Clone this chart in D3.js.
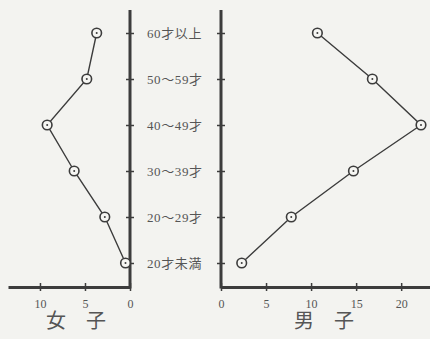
<!DOCTYPE html>
<html>
<head>
<meta charset="utf-8">
<script src="https://cdn.jsdelivr.net/npm/d3@7"></script>
<style>
  body { margin:0; background:#f3f3f0; }
  svg { display:block; }
  text { font-family:"Liberation Serif","DejaVu Serif","Noto Sans CJK JP",serif; fill:#555; }
</style>
</head>
<body>
<script>
// age groups, bottom to top
var ageGroups = ['20才未満','20～29才','30～39才','40～49才','50～59才','60才以上'];
var femaleValues = [0.5, 2.8, 6.2, 9.2, 4.8, 3.7];
var maleValues = [2.3, 7.8, 14.7, 22.2, 16.8, 10.7];
var femaleTicks = [0, 5, 10];
var maleTicks = [0, 5, 10, 15, 20];
var femaleTitle = '女　子';
var maleTitle = '男　子';

var W = 430, H = 339;
var ink = '#3c3c3c';
var svg = d3.select('body').append('svg').attr('width', W).attr('height', H);

var y = d3.scalePoint().domain(ageGroups).range([286, 10]).padding(0.5);
var xF = d3.scaleLinear().domain([0, 13.55]).range([130, 8]);
var xM = d3.scaleLinear().domain([0, 23.2]).range([221, 430]);
var baseY = 287;

function hAxis(x, ticks){
  var g = svg.append('g').attr('transform', 'translate(0,' + baseY + ')')
    .call(d3.axisBottom(x).tickValues(ticks).tickSizeOuter(0).tickSizeInner(4).tickPadding(8));
  g.select('.domain').attr('stroke', ink).attr('stroke-width', 3);
  g.selectAll('.tick line').attr('stroke', ink).attr('stroke-width', 1.5).attr('y1', -4).attr('y2', 4);
  g.selectAll('.tick text').style('font-size', '12px').attr('fill', '#777');
  return g;
}
function vAxis(xpos){
  var g = svg.append('g').attr('transform', 'translate(' + xpos + ',0)')
    .call(d3.axisRight(y).tickSizeOuter(0).tickSizeInner(4).tickFormat(''));
  g.select('.domain').attr('stroke', ink).attr('stroke-width', 3).attr('d', 'M0,10V' + (baseY + 1.5));
  g.selectAll('.tick line').attr('stroke', ink).attr('stroke-width', 1.5).attr('x1', -4).attr('x2', 4);
  return g;
}

hAxis(xF, femaleTicks);
hAxis(xM, maleTicks);
vAxis(xF(0));
vAxis(xM(0));

// category labels between the two panels
svg.append('g').selectAll('text').data(ageGroups).enter().append('text')
  .attr('x', 147).attr('y', function(d){ return y(d); })
  .attr('dy', '0.35em')
  .style('font-size', '13px')
  .style('letter-spacing', '0.6px')
  .text(function(d){ return d; });

function series(x, values){
  var pts = ageGroups.map(function(a, i){ return [x(values[i]), y(a)]; });
  svg.append('path').attr('d', d3.line()(pts))
    .attr('fill', 'none').attr('stroke', ink).attr('stroke-width', 1.4);
  var g = svg.append('g').selectAll('g').data(pts).enter().append('g')
    .attr('transform', function(d){ return 'translate(' + d[0] + ',' + d[1] + ')'; });
  g.append('circle').attr('r', 4.8).attr('fill', '#f6f6f3').attr('stroke', ink).attr('stroke-width', 1.6);
  g.append('circle').attr('r', 1).attr('fill', ink);
}
series(xF, femaleValues);
series(xM, maleValues);

svg.append('text').attr('x', 76).attr('y', 328).attr('text-anchor', 'middle')
  .style('font-size', '20px').attr('fill', '#444').text(femaleTitle);
svg.append('text').attr('x', 324).attr('y', 328).attr('text-anchor', 'middle')
  .style('font-size', '20px').attr('fill', '#444').text(maleTitle);
</script>
</body>
</html>
